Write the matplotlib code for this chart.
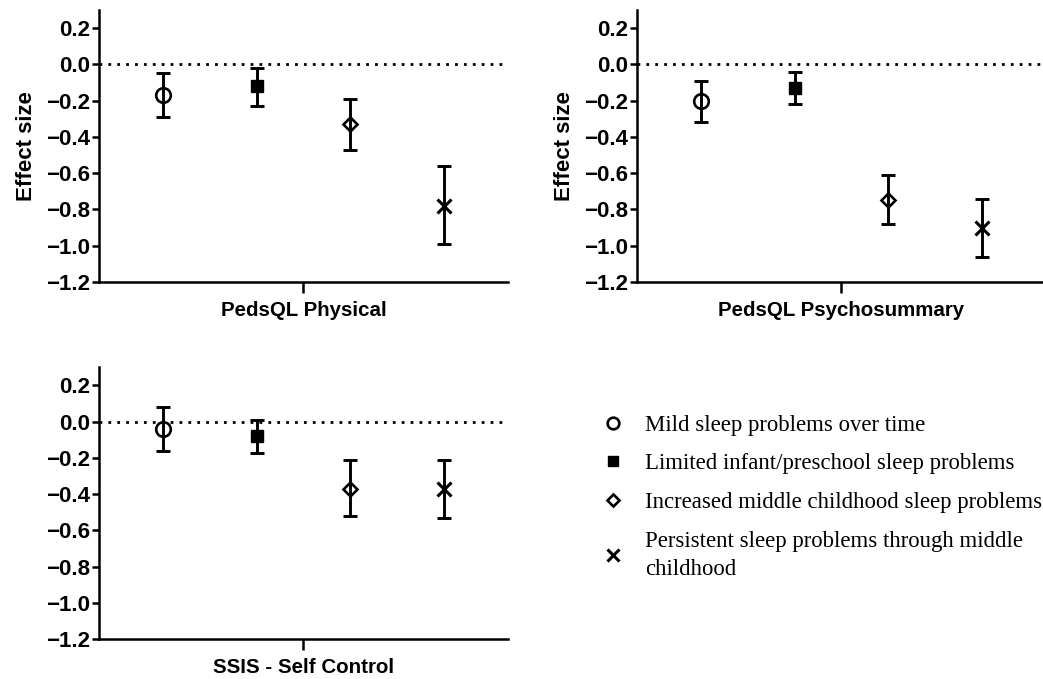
"""Effect sizes by sleep trajectory group, three outcome panels plus legend."""

import matplotlib
matplotlib.use('Agg')
from matplotlib import pyplot as plt
from matplotlib.lines import Line2D

# Groups (legend order) and marker styles
groups = [
    'Mild sleep problems over time',
    'Limited infant/preschool sleep problems',
    'Increased middle childhood sleep problems',
    'Persistent sleep problems through middle\nchildhood',
]
positions = [1, 2, 3, 4]

outcomes = ['PedsQL Physical', 'PedsQL Psychosummary', 'SSIS - Self Control']

# Estimates and 95% CI bounds
physical_est = [-0.17, -0.12, -0.33, -0.78]
physical_lo = [-0.29, -0.23, -0.47, -0.99]
physical_hi = [-0.05, -0.02, -0.19, -0.56]

psycho_est = [-0.20, -0.13, -0.75, -0.90]
psycho_lo = [-0.32, -0.22, -0.88, -1.06]
psycho_hi = [-0.09, -0.04, -0.61, -0.74]

selfctrl_est = [-0.04, -0.08, -0.37, -0.37]
selfctrl_lo = [-0.16, -0.17, -0.52, -0.53]
selfctrl_hi = [0.08, 0.01, -0.21, -0.21]

yticks = [0.2, 0.0, -0.2, -0.4, -0.6, -0.8, -1.0, -1.2]

MARKERS = [
    dict(marker='o', ms=10.5, mfc='none', mec='black', mew=1.9),
    dict(marker='s', ms=9, mfc='black', mec='black', mew=1.0),
    dict(marker='D', ms=7.5, mfc='none', mec='black', mew=1.9),
    dict(marker='x', ms=10, mfc='none', mec='black', mew=2.2),
]

plt.rcParams['font.family'] = ['Liberation Sans', 'DejaVu Sans']
plt.rcParams['font.weight'] = 'bold'
plt.rcParams['axes.labelweight'] = 'bold'

fig = plt.figure(figsize=(10.43, 6.79), dpi=100)

# Положение панелей в долях фигуры
W = 0.392
H = 0.4006
ax_specs = [
    ([0.0949, 0.5847, W, H], outcomes[0], physical_est, physical_lo, physical_hi, True),
    ([0.6107, 0.5847, W, H], outcomes[1], psycho_est, psycho_lo, psycho_hi, True),
    ([0.0949, 0.0585, W, H], outcomes[2], selfctrl_est, selfctrl_lo, selfctrl_hi, False),
]


def draw_panel(ax, title, est, lo, hi, ylabel):
    ax.axhline(0, color='black', lw=2, ls=(0, (1, 2.2)), zorder=1)
    for x, e, l, h, style in zip(positions, est, lo, hi, MARKERS):
        ax.errorbar(
            x, e, yerr=[[e - l], [h - e]],
            fmt='none', ecolor='black', elinewidth=2.1, capsize=4.8, capthick=2.1, zorder=2,
        )
        ax.plot(x, e, color='black', linestyle='none', zorder=3, **style)
    ax.set_xlim(0.32, 4.68)
    ax.set_ylim(-1.2, 0.3)
    ax.set_yticks(yticks)
    ax.set_yticklabels([f'{v:.1f}'.replace('-', '\u2212') for v in yticks])
    ax.set_xticks([2.5])
    ax.set_xticklabels([''])
    ax.set_xlabel(title, fontsize=14.8, fontweight='bold', labelpad=4.5)
    if ylabel:
        ax.set_ylabel('Effect size', fontsize=16, fontweight='bold', labelpad=6.5)
    for side in ('top', 'right'):
        ax.spines[side].set_visible(False)
    for side in ('left', 'bottom'):
        ax.spines[side].set_linewidth(1.8)
    ax.tick_params(axis='y', length=5, width=1.8, labelsize=16, pad=1.5)
    ax.tick_params(axis='x', length=8, width=1.8, pad=1)


for rect, title, est, lo, hi, ylabel in ax_specs:
    ax = fig.add_axes(rect)
    draw_panel(ax, title, est, lo, hi, ylabel)

# Легенда
handles = [Line2D([], [], color='black', linestyle='none', **style) for style in MARKERS]
for h in handles:
    h.set_markersize(h.get_markersize() * 0.8)
leg = fig.legend(
    handles, groups,
    loc='upper left', bbox_to_anchor=(0.557, 0.4196),
    frameon=False, handlelength=1.0, handletextpad=0.9, labelspacing=0.78,
    prop={'family': 'Liberation Serif', 'weight': 'normal', 'size': 16.4},
)
for t in leg.get_texts():
    t.set_linespacing(1.42)

fig.savefig('out.png', dpi=100)
